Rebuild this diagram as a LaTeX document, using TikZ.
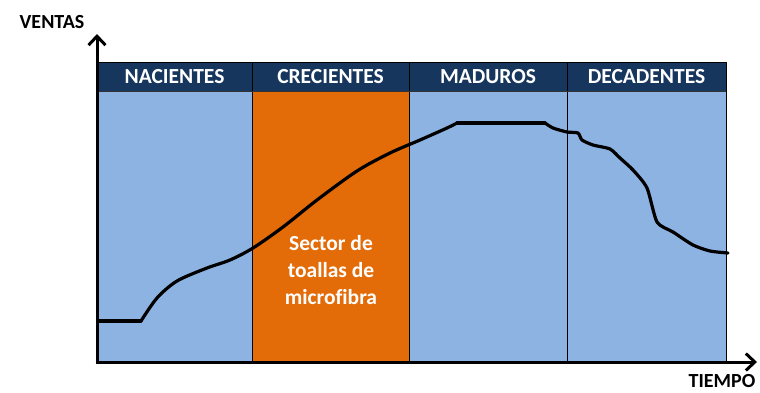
\documentclass[tikz,border=0pt]{standalone}
\usepackage{fontspec}
\setmainfont{Carlito}[Ligatures=NoCommon]
\usetikzlibrary{arrows.meta}
\definecolor{hdr}{HTML}{17365D}
\definecolor{cell}{HTML}{8DB3E2}
\definecolor{orng}{HTML}{E36C09}
\tikzset{
  hdrtext/.style={text=white,font=\bfseries\fontsize{21.5}{24}\selectfont,anchor=center,inner sep=0pt},
  axlabel/.style={text=black,font=\bfseries\fontsize{20}{22}\selectfont,inner sep=0pt},
  axisline/.style={line width=3pt,-{Straight Barb[length=9pt,width=17pt,line width=3pt]}},
  divider/.style={line width=0.8pt,draw=black},
  curve/.style={line width=3.2pt,line join=round,line cap=round}
}
\begin{document}
\begin{tikzpicture}[x=1pt,y=-1pt]
\useasboundingbox (0,0) rectangle (760,392);
% cells
\fill[cell] (97,91) rectangle (252,362);
\fill[orng] (252,91) rectangle (409,362);
\fill[cell] (409,91) rectangle (726,362);
\fill[hdr] (97,62) rectangle (726,91);
% dividers
\foreach \xx in {252,409,567}{\draw[divider] (\xx,62) -- (\xx,362);}
\draw[divider] (726,62) -- (726,362);
\draw[divider] (97,62) -- (726,62);
\draw[divider,draw=black!80] (97,91) -- (726,91);
% header texts
\node[hdrtext] (h1) at (174.5,76.5) {NACIENTES};
\node[hdrtext] (h2) at (330.5,76.5) {CRECIENTES};
\node[hdrtext] (h3) at (488,76.5) {MADUROS};
\node[hdrtext] (h4) at (646.5,76.5) {DECADENTES};
% sector text
\node[text=white,font=\bfseries\fontsize{21.5}{27}\selectfont,align=center] (sec) at (331,270) {Sector de\\toallas de\\microfibra};
% curve
\draw[curve] plot[smooth,tension=0.5] coordinates {(141,321) (157,298) (177,281) (207,268) (230,260) (253,248) (283,227) (317,200) (357,171) (390,153) (420,140) (447,128) (457,123)};
\draw[curve] (99,321) -- (141,321);
\draw[curve] (457,123) -- (545,123);
\draw[curve] plot[smooth,tension=0.4] coordinates {(545,123) (553,128) (567,132) (578,133) (582,140) (593,145) (610,149) (620,158) (633,170) (647,188) (657,222) (673,232) (693,245) (710,251) (728,253)};
% axes
\coordinate (o) at (97,362);
\coordinate (ytip) at (97,34);
\coordinate (xtip) at (757,362);
\draw[axisline] (o) -- (ytip);
\draw[axisline] (95.5,362) -- (xtip);
\node[axlabel] (yl) at (52,22) {VENTAS};
\node[axlabel] (xl) at (722,381) {TIEMPO};
\end{tikzpicture}
\end{document}
